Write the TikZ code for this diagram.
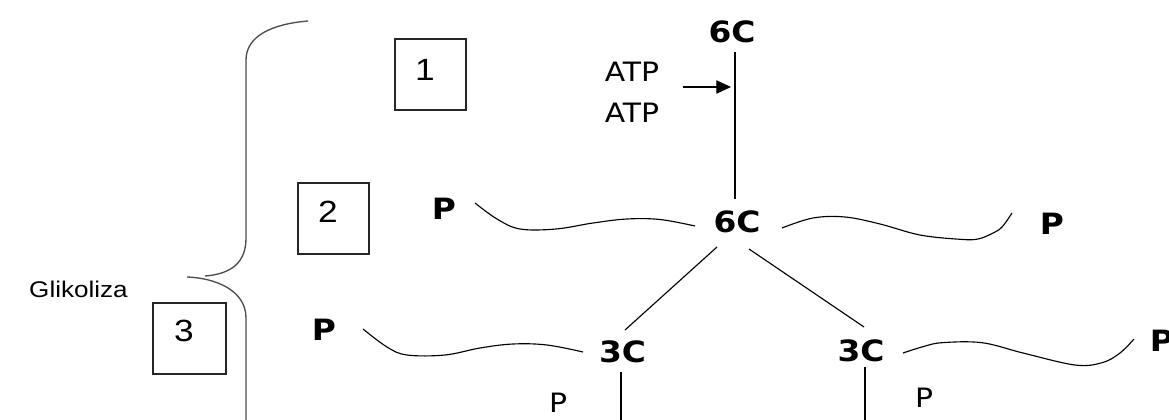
\documentclass[tikz,border=0pt]{standalone}
\usepackage{fontspec}
\setmainfont{Liberation Sans}[FakeStretch=1.15]
\newfontfamily\dvs{DejaVu Sans}[FakeStretch=1.12]
\usetikzlibrary{arrows.meta}
\begin{document}
\begin{tikzpicture}[x=0.75pt,y=-0.75pt,
  bigc/.style={inner sep=0pt,font=\dvs\bfseries\fontsize{22}{22}\selectfont},
  smallt/.style={inner sep=0pt,font=\dvs\fontsize{20}{20}\selectfont},
  numt/.style={inner sep=0pt,font=\fontsize{23}{23}\selectfont},
  numbox/.style={draw=black!85,line width=0.8pt},
  conn/.style={line width=0.85pt,black},
  wave/.style={line width=0.85pt,black},
  bracel/.style={line width=1pt,black!70}]
\useasboundingbox (0,0) rectangle (1169,420);
% brace
\draw[bracel] (308,21) .. controls (272,24) and (246,36) .. (246,60) -- (246,238)
  .. controls (246,262) and (232,274) .. (205,276);
\draw[bracel] (187,277) .. controls (215,278) and (246,290) .. (246,318) -- (246,422);
\node[anchor=base east,inner sep=0pt,font=\fontsize{17}{17}\selectfont] (gl) at (128,297) {Glikoliza};
% numbered boxes
\draw[numbox] (395,39) rectangle (466,110);
\node[numt] (n1) at (425,70) {1};
\draw[numbox] (298,183) rectangle (369,254);
\node[numt] (n2) at (328,212) {2};
\draw[numbox] (153,303) rectangle (226,374);
\node[numt] (n3) at (184,331) {3};
% carbon nodes
\node[bigc] (c6t) at (732,31.5) {6C};
\node[bigc] (c6m) at (737,222) {6C};
\node[bigc] (c3l) at (622.5,351.5) {3C};
\node[bigc] (c3r) at (861,351) {3C};
\node[bigc] (p2l) at (444,209) {P};
\node[bigc] (p2r) at (1052,224) {P};
\node[bigc] (p3l) at (324,330) {P};
\node[bigc] (p3r) at (1162,341) {P};
\node[smallt] (atp1) at (632,72) {ATP};
\node[smallt] (atp2) at (632,113) {ATP};
\node[smallt] (sp1) at (558,403) {P};
\node[smallt] (sp2) at (924,398) {P};
% connector end points
\coordinate (vt) at (735,52);
\coordinate (vm) at (735,199);
\coordinate (va) at (683,87);
\coordinate (vb) at (731,87);
\coordinate (dl1) at (717,247);
\coordinate (dl2) at (625,330);
\coordinate (dr1) at (749,249);
\coordinate (dr2) at (864,327);
\coordinate (bl1) at (621,372);
\coordinate (bl2) at (621,422);
\coordinate (br1) at (865,367);
\coordinate (br2) at (865,422);
% connectors
\draw[conn] (vt) -- (vm);
\draw[conn,-{Triangle[length=11pt,width=10pt]}] (va) -- (vb);
\draw[conn] (dl1) -- (dl2);
\draw[conn] (dr1) -- (dr2);
\draw[conn] (bl1) -- (bl2);
\draw[conn] (br1) -- (br2);
% waves
\draw[wave] plot[smooth,tension=0.6] coordinates {(475,203) (497,219) (520,229) (556,229) (593,223) (627,219) (660,219.5) (695,226)};
\draw[wave] plot[smooth,tension=0.6] coordinates {(782,228) (813,218) (845,217) (880,224) (920,235) (960,239.3) (978,239) (993,233) (1002,227) (1012,213)};
\draw[wave] plot[smooth,tension=0.6] coordinates {(363,329) (387,347) (407,355) (445,355) (480,348) (513,344) (547,345) (583,352)};
\draw[wave] plot[smooth,tension=0.6] coordinates {(903,353) (923,346.7) (942,342.7) (982,342.7) (1023,353) (1075,365) (1102,362.7) (1120,353) (1134,339)};
\end{tikzpicture}
\end{document}
